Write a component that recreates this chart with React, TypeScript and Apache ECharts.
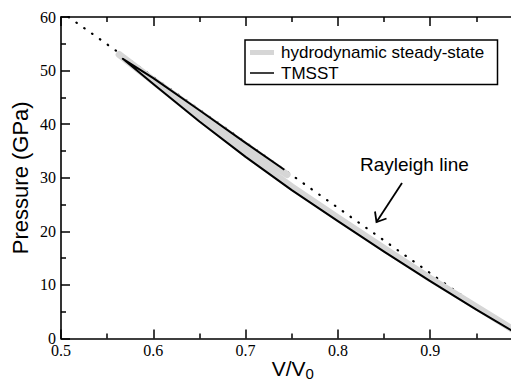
import React, { useEffect, useRef } from "react";
import * as echarts from "echarts";

// Rayleigh line end points (V/V0, P)
const rayleighV = [0.5082, 1.0];
const rayleighP = [60, 0];

// Hydrodynamic steady-state (gray)
const hydroUpperV = [0.745, 0.7, 0.65, 0.6, 0.563];
const hydroUpperP = [30.6, 36.0, 42.1, 48.2, 53.0];
const hydroLowerV = [0.563, 0.6, 0.65, 0.7, 0.75, 0.8, 0.85, 0.9, 0.95, 0.992];
const hydroLowerP = [53.0, 48.0, 41.1, 34.5, 28.3, 22.5, 16.8, 11.2, 5.9, 1.4];

// TMSST (black)
const tmsstUpperV = [0.742, 0.7, 0.65, 0.6, 0.567];
const tmsstUpperP = [31.5, 36.5, 42.6, 48.6, 52.2];
const tmsstLowerV = [0.567, 0.6, 0.65, 0.7, 0.75, 0.8, 0.85, 0.9, 0.95, 0.99];
const tmsstLowerP = [52.2, 47.5, 40.5, 33.9, 27.7, 21.9, 16.2, 10.7, 5.4, 1.3];

// tick labels
const xTicks = [0.5, 0.6, 0.7, 0.8, 0.9];
const yTicks = [0, 10, 20, 30, 40, 50, 60];

const X_MIN = 0.5;
const X_MAX = 1.0;
const Y_MIN = 0;
const Y_MAX = 60;

const zip = (xs: number[], ys: number[]) => xs.map((x, i) => [x, ys[i]]);

const mkLine = () => ({ show: true, onZero: false, lineStyle: { color: "#000", width: 1.6 } });

// helper axes that draw the inward ticks as outward ticks of an axis shifted into the plot
const tickAxis = (extra: any, major: boolean, len: number) => ({
  type: "value",
  ...extra,
  offset: -len,
  axisLine: { show: false, onZero: false },
  axisLabel: { show: false },
  splitLine: { show: false },
  axisTick: { show: major, inside: false, length: len, lineStyle: { color: "#000", width: 1.5 } },
  minorTick: { show: !major, splitNumber: 2, length: len, lineStyle: { color: "#000", width: 1.5 } },
});

export default function App() {
  const ref = useRef<HTMLDivElement>(null);
  useEffect(() => {
    if (!ref.current) return;
    const chart = echarts.init(ref.current, undefined, { renderer: "svg" });
    const serif = "Liberation Serif";
    const sans = "Liberation Sans";
    const hydroData = [...zip(hydroUpperV, hydroUpperP), ...zip(hydroLowerV, hydroLowerP).slice(1)];
    const tmsstData = [...zip(tmsstUpperV, tmsstUpperP), ...zip(tmsstLowerV, tmsstLowerP).slice(1)];
    const xRange = { min: X_MIN, max: X_MAX, interval: 0.1 };
    const yRange = { min: Y_MIN, max: Y_MAX, interval: 10 };

    chart.setOption({
      animation: false,
      backgroundColor: "#fff",
      grid: { left: 61, top: 17, bottom: 48.5, right: -11.5, containLabel: false, outerBoundsMode: "none" },
      xAxis: [
        {
          type: "value",
          ...xRange,
          axisLine: mkLine(),
          axisTick: { show: false },
          splitLine: { show: false },
          name: "{a|V/V}{b|0}",
          nameLocation: "middle",
          nameGap: 18,
          nameMoveOverlap: false,
          nameTextStyle: {
            rich: {
              a: { fontFamily: sans, fontSize: 21, color: "#000", lineHeight: 24, padding: [0, 0, 0, 2] },
              b: { fontFamily: sans, fontSize: 15, color: "#000", lineHeight: 15, verticalAlign: "bottom", padding: [14, 0, 0, 0] },
            },
          },
          axisLabel: {
            fontFamily: serif,
            fontSize: 16,
            color: "#000",
            margin: 4,
            showMaxLabel: false,
            formatter: (v: number) => (xTicks.some((t) => Math.abs(t - v) < 1e-6) ? v.toFixed(1) : ""),
          },
        },
        {
          type: "value",
          position: "top",
          ...xRange,
          axisLine: mkLine(),
          axisTick: { show: false },
          splitLine: { show: false },
          axisLabel: { show: false },
        },
        tickAxis({ position: "bottom", ...xRange }, true, 9),
        tickAxis({ position: "bottom", ...xRange }, false, 5),
        tickAxis({ position: "top", ...xRange }, true, 9),
        tickAxis({ position: "top", ...xRange }, false, 5),
      ],
      yAxis: [
        {
          type: "value",
          ...yRange,
          axisLine: mkLine(),
          axisTick: { show: false },
          splitLine: { show: false },
          name: "Pressure (GPa)",
          nameLocation: "middle",
          nameGap: 30,
          nameMoveOverlap: false,
          nameTextStyle: { fontFamily: sans, fontSize: 22, color: "#000" },
          axisLabel: {
            fontFamily: serif,
            fontSize: 16,
            color: "#000",
            margin: 5,
            formatter: (v: number) => (yTicks.includes(v) ? String(v) : ""),
          },
        },
        tickAxis({ position: "left", ...yRange }, true, 9),
        tickAxis({ position: "left", ...yRange }, false, 5),
      ],
      series: [
        {
          name: "Rayleigh line",
          type: "line",
          data: zip(rayleighV, rayleighP),
          showSymbol: false,
          symbol: "none",
          lineStyle: { color: "#000", width: 2.2, type: [0.5, 9.1], cap: "round" },
          z: 1,
        },
        {
          name: "hydrodynamic steady-state",
          type: "line",
          data: hydroData,
          symbol: "none",
          lineStyle: { color: "#d6d6d6", width: 7, cap: "round", join: "round" },
          z: 2,
        },
        {
          name: "TMSST",
          type: "line",
          data: tmsstData,
          symbol: "none",
          lineStyle: { color: "#000", width: 2, join: "round" },
          z: 3,
        },
      ],
      graphic: [
        {
          type: "rect",
          shape: { x: 245, y: 40, width: 252.5, height: 44.5 },
          style: { fill: "#fff", stroke: "#000", lineWidth: 1.5 },
          z: 10,
        },
        {
          type: "line",
          shape: { x1: 250, y1: 52.5, x2: 274, y2: 52.5 },
          style: { stroke: "#d6d6d6", lineWidth: 5 },
          z: 11,
        },
        {
          type: "line",
          shape: { x1: 250, y1: 73, x2: 274, y2: 73 },
          style: { stroke: "#000", lineWidth: 1.5 },
          z: 11,
        },
        {
          type: "text",
          x: 281,
          y: 52.5,
          style: { text: "hydrodynamic steady-state", fontFamily: sans, fontSize: 17, fill: "#000", verticalAlign: "middle" },
          z: 11,
        },
        {
          type: "text",
          x: 281,
          y: 73,
          style: { text: "TMSST", fontFamily: sans, fontSize: 17, fill: "#000", verticalAlign: "middle" },
          z: 11,
        },
        {
          type: "text",
          x: 360,
          y: 164,
          style: { text: "Rayleigh line", fontFamily: sans, fontSize: 19, fill: "#000", verticalAlign: "middle" },
          z: 11,
        },
        {
          type: "line",
          shape: { x1: 402, y1: 183, x2: 376.5, y2: 222 },
          style: { stroke: "#000", lineWidth: 1.8 },
          z: 11,
        },
        {
          type: "polyline",
          shape: { points: [[375, 211.5], [376.5, 222], [386.5, 218.5]] },
          style: { stroke: "#000", lineWidth: 1.8, fill: "none" },
          z: 11,
        },
      ],
    });
    return () => chart.dispose();
  }, []);
  return <div ref={ref} style={{ width: 511, height: 387, position: "absolute", left: 0, top: 0 }} />;
}
